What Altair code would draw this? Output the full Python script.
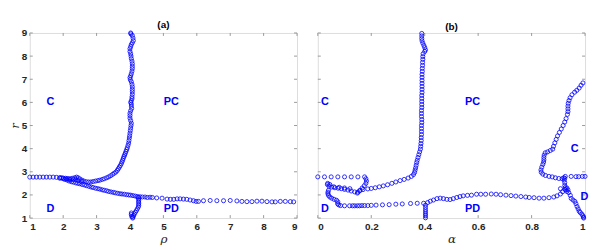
import altair as alt
import pandas as pd

# ---------------- panel (a): rho vs r ----------------
a_left_rho = [1.0, 1.1, 1.2, 1.3, 1.4, 1.5, 1.6, 1.7, 1.8, 1.9, 1.95]
a_left_r = [2.77, 2.77, 2.77, 2.77, 2.77, 2.77, 2.77, 2.77, 2.76, 2.75, 2.74]

a_up_rho = [2.0, 2.07, 2.14, 2.2, 2.27, 2.34, 2.4, 2.45, 2.5, 2.56, 2.62, 2.69, 2.76, 2.83, 2.9, 2.97,
            3.04, 3.1, 3.17, 3.23, 3.3, 3.36, 3.42, 3.48, 3.53, 3.58, 3.62, 3.65, 3.68, 3.71, 3.74, 3.76,
            3.78, 3.8, 3.82, 3.84, 3.86, 3.88, 3.9, 3.92, 3.94, 3.96, 3.97, 3.98, 3.99, 4.0, 4.01, 4.02,
            4.03, 4.04, 4.02, 4.0, 4.0, 4.0, 4.02, 4.05, 4.04, 4.04, 4.02, 4.04, 4.06, 4.06, 4.07, 4.07,
            4.07, 4.07, 4.06, 4.04, 4.01, 4.0, 4.02, 4.04, 4.06, 4.07, 4.07, 4.07, 4.06, 4.04, 4.03, 4.02,
            4.0, 4.0, 4.02, 4.04, 4.07, 4.1, 4.09, 4.07, 4.03, 4.02]
a_up_r = [2.73, 2.72, 2.71, 2.7, 2.72, 2.74, 2.77, 2.74, 2.69, 2.64, 2.6, 2.57, 2.56, 2.56, 2.58, 2.6,
          2.62, 2.64, 2.67, 2.7, 2.74, 2.78, 2.83, 2.89, 2.94, 2.99, 3.06, 3.13, 3.2, 3.27, 3.35, 3.43,
          3.5, 3.58, 3.66, 3.73, 3.8, 3.88, 3.96, 4.04, 4.14, 4.24, 4.35, 4.46, 4.56, 4.67, 4.78, 4.89,
          5.0, 5.1, 5.21, 5.32, 5.43, 5.53, 5.64, 5.74, 5.84, 5.93, 6.0, 6.07, 6.16, 6.24, 6.35, 6.46,
          6.56, 6.67, 6.78, 6.89, 6.98, 7.07, 7.15, 7.24, 7.35, 7.46, 7.56, 7.67, 7.78, 7.89, 8.0, 8.1,
          8.2, 8.32, 8.41, 8.5, 8.58, 8.67, 8.78, 8.89, 8.96, 9.0]

a_mid_rho = [1.9, 2.0, 2.1, 2.2, 2.3, 2.38, 2.45, 2.55]
a_mid_r = [2.72, 2.7, 2.69, 2.66, 2.66, 2.68, 2.62, 2.58]

a_low_rho = [2.05, 2.12, 2.18, 2.25, 2.31, 2.38, 2.44, 2.5, 2.57, 2.64, 2.7, 2.77, 2.84, 2.9, 2.97,
             3.04, 3.1, 3.17, 3.23, 3.3, 3.36, 3.43, 3.5, 3.56, 3.63, 3.7, 3.76, 3.83, 3.9, 3.96, 4.02,
             4.09, 4.16, 4.22, 4.3, 4.37, 4.45, 4.52, 4.6, 4.67, 4.8, 4.96, 5.11, 5.21, 5.31, 5.41, 5.5,
             5.6, 5.7, 5.8, 5.9, 5.98, 6.05, 6.2, 6.4, 6.6, 6.8, 7.0, 7.2, 7.35, 7.5, 7.65, 7.8, 7.95,
             8.1, 8.25, 8.35, 8.5, 8.65, 8.8, 8.9]
a_low_r = [2.67, 2.64, 2.6, 2.57, 2.55, 2.52, 2.5, 2.48, 2.45, 2.43, 2.4, 2.37, 2.34, 2.32, 2.29,
           2.27, 2.25, 2.22, 2.2, 2.18, 2.15, 2.13, 2.11, 2.09, 2.07, 2.05, 2.04, 2.03, 2.01, 2.0, 1.99,
           1.97, 1.95, 1.93, 1.92, 1.91, 1.91, 1.89, 1.9, 1.89, 1.87, 1.86, 1.82, 1.81, 1.81, 1.83, 1.83,
           1.82, 1.81, 1.78, 1.75, 1.72, 1.72, 1.75, 1.76, 1.75, 1.75, 1.76, 1.74, 1.72, 1.71, 1.71, 1.73, 1.73,
           1.71, 1.7, 1.7, 1.72, 1.72, 1.71, 1.7]

a_stem_rho = [4.25, 4.26, 4.26, 4.26, 4.26, 4.26, 4.25, 4.22, 4.19, 4.16, 4.13, 4.11, 4.09, 4.08,
              4.04, 4.04, 4.06]
a_stem_r = [1.9, 1.83, 1.76, 1.69, 1.62, 1.55, 1.48, 1.4, 1.32, 1.25, 1.18, 1.11, 1.04, 1.0,
            1.22, 1.15, 1.07]

# ---------------- panel (b): alpha vs r ----------------
b_hl_alpha = [0.0, 0.025, 0.05, 0.075, 0.1, 0.125, 0.15, 0.175]
b_hl_r = [2.78, 2.78, 2.78, 2.78, 2.78, 2.78, 2.78, 2.78]

b_hook_alpha = [0.18, 0.182, 0.18, 0.174, 0.166, 0.158, 0.15, 0.148]
b_hook_r = [2.7, 2.6, 2.5, 2.4, 2.3, 2.2, 2.12, 2.08]

b_band_alpha = [0.138, 0.125, 0.113, 0.1, 0.088, 0.076, 0.064, 0.052, 0.042, 0.036, 0.037,
                0.045, 0.06, 0.08, 0.1, 0.12, 0.04, 0.038, 0.038, 0.04]
b_band_r = [2.13, 2.17, 2.21, 2.24, 2.27, 2.29, 2.31, 2.34, 2.38, 2.45, 2.5,
            2.45, 2.35, 2.33, 2.3, 2.27, 2.2, 2.12, 2.05, 1.98]

b_wig_alpha = [0.045, 0.052, 0.061, 0.07, 0.075, 0.074, 0.078, 0.085]
b_wig_r = [1.91, 1.86, 1.81, 1.77, 1.7, 1.62, 1.57, 1.54]

b_low_alpha = [0.1, 0.119, 0.13, 0.138, 0.148, 0.156, 0.165, 0.175, 0.187, 0.2, 0.218, 0.242, 0.267,
               0.292, 0.316, 0.347, 0.372, 0.396, 0.411, 0.421, 0.433, 0.446, 0.458, 0.47, 0.483, 0.495,
               0.507, 0.52, 0.532, 0.544, 0.56, 0.575, 0.594, 0.61, 0.628, 0.649, 0.667, 0.684, 0.704,
               0.723, 0.741, 0.76, 0.778, 0.791, 0.809, 0.828, 0.846, 0.865, 0.883, 0.895, 0.908, 0.916,
               0.924]
b_low_r = [1.53, 1.53, 1.53, 1.53, 1.53, 1.53, 1.54, 1.54, 1.54, 1.55, 1.56, 1.57, 1.58,
           1.6, 1.61, 1.63, 1.64, 1.64, 1.67, 1.73, 1.78, 1.84, 1.86, 1.84, 1.81, 1.8,
           1.84, 1.89, 1.93, 1.96, 1.98, 1.99, 2.03, 2.03, 2.03, 2.04, 2.03, 2.01, 1.99,
           1.97, 1.95, 1.93, 1.91, 1.89, 1.88, 1.86, 1.86, 1.88, 1.91, 1.96, 2.04, 2.14,
           2.24]

b_stem_alpha = [0.403, 0.403, 0.403, 0.403, 0.403, 0.403, 0.403]
b_stem_r = [1.56, 1.46, 1.36, 1.27, 1.18, 1.1, 1.01]

b_main_alpha = [0.156, 0.169, 0.187, 0.2, 0.215, 0.23, 0.245, 0.261, 0.277, 0.292, 0.308, 0.323, 0.338,
                0.35, 0.358, 0.362, 0.364, 0.366, 0.368, 0.37, 0.372, 0.375, 0.378, 0.381, 0.384, 0.385,
                0.386, 0.387, 0.387, 0.388, 0.388, 0.388, 0.388, 0.389, 0.389, 0.388, 0.388, 0.388, 0.389,
                0.389, 0.389, 0.389, 0.389, 0.39, 0.39, 0.39, 0.39, 0.39, 0.39, 0.39, 0.391, 0.391, 0.392,
                0.392, 0.393, 0.393, 0.394, 0.4, 0.403, 0.4, 0.397, 0.393, 0.39, 0.389, 0.389, 0.389]
b_main_r = [2.17, 2.23, 2.26, 2.28, 2.31, 2.35, 2.39, 2.44, 2.5, 2.56, 2.62, 2.67, 2.73,
            2.8, 2.88, 2.97, 3.07, 3.17, 3.28, 3.4, 3.5, 3.62, 3.74, 3.86, 3.98, 4.1,
            4.22, 4.35, 4.48, 4.61, 4.74, 4.87, 5.0, 5.13, 5.26, 5.39, 5.52, 5.65, 5.78,
            5.91, 6.04, 6.17, 6.3, 6.43, 6.56, 6.69, 6.82, 6.95, 7.08, 7.21, 7.34, 7.47, 7.6,
            7.73, 7.86, 7.98, 8.1, 8.2, 8.27, 8.37, 8.46, 8.56, 8.66, 8.76, 8.87, 8.98]

b_ru_alpha = [0.992, 0.985, 0.978, 0.969, 0.961, 0.951, 0.944, 0.94, 0.937, 0.936, 0.936, 0.936, 0.934,
              0.929, 0.924, 0.918, 0.911, 0.904, 0.897, 0.892, 0.887, 0.882, 0.879, 0.87, 0.86, 0.851,
              0.847, 0.846, 0.846, 0.845, 0.842, 0.838, 0.835, 0.836, 0.842, 0.852, 0.865, 0.877, 0.889,
              0.902, 0.914, 0.924]
b_ru_r = [6.84, 6.74, 6.62, 6.52, 6.44, 6.33, 6.2, 6.08, 5.96, 5.84, 5.72, 5.6, 5.48,
          5.3, 5.15, 5.0, 4.85, 4.7, 4.55, 4.4, 4.25, 4.1, 3.98, 3.92, 3.86, 3.82,
          3.72, 3.62, 3.52, 3.42, 3.32, 3.2, 3.08, 2.98, 2.9, 2.84, 2.8, 2.78, 2.74,
          2.71, 2.7, 2.72]

b_hr_alpha = [0.926, 0.948, 0.966, 0.976, 0.99, 1.0]
b_hr_r = [2.8, 2.8, 2.79, 2.79, 2.8, 2.8]

b_rs_alpha = [0.92, 0.922, 0.924, 0.924, 0.926, 0.928, 0.932, 0.939, 0.945, 0.948, 0.955, 0.962, 0.966,
              0.97, 0.974, 0.978, 0.982, 0.988, 0.992, 0.994, 0.995, 0.908, 0.932, 0.936]
b_rs_r = [2.74, 2.64, 2.53, 2.41, 2.32, 2.22, 2.15, 2.1, 1.98, 1.85, 1.78, 1.72, 1.62,
          1.5, 1.4, 1.3, 1.24, 1.17, 1.1, 1.04, 1.0, 2.27, 2.3, 2.22]

# region labels
a_lab_text = ["C", "PC", "D", "PD"]
a_lab_x = [1.62, 5.24, 1.62, 5.24]
a_lab_y = [6.0, 6.0, 1.4, 1.4]
b_lab_text = ["C", "PC", "D", "PD", "C", "D"]
b_lab_x = [0.027, 0.579, 0.027, 0.579, 0.961, 0.998]
b_lab_y = [6.0, 6.0, 1.4, 1.4, 3.99, 1.93]

a_xticks = [1, 2, 3, 4, 5, 6, 7, 8, 9]
b_xticks = [0, 0.2, 0.4, 0.6, 0.8, 1]
yticks = [1, 2, 3, 4, 5, 6, 7, 8, 9]

W, H = 270, 187
BLUE = "#0000ff"
FRAME = "#9a9a9a"
TXT = "#262626"
FONT = "Liberation Sans"


def frame_df(pairs):
    xs, ys = [], []
    for px, py in pairs:
        xs += px
        ys += py
    return pd.DataFrame({"x": xs, "r": ys})


def panel(df, dom, xticks, xtitle, title, labels, show_y):
    xs = alt.Scale(domain=dom, nice=False, zero=False)
    ys = alt.Scale(domain=[1, 9], nice=False, zero=False)
    xax = alt.Axis(values=xticks, ticks=False, domain=False, grid=False, format="~g",
                   labelFont=FONT, labelFontWeight="bold", labelFontSize=10, labelColor=TXT,
                   labelPadding=4, title=xtitle, titleFont="DejaVu Serif", titleFontStyle="italic",
                   titleFontWeight="normal", titleFontSize=12, titleColor=TXT, titlePadding=2)
    if show_y:
        yax = alt.Axis(values=yticks, ticks=False, domain=False, grid=False,
                       labelFont=FONT, labelFontWeight="bold", labelFontSize=10, labelColor=TXT,
                       labelPadding=3, title="r", titleFont="DejaVu Serif", titleFontStyle="italic",
                       titleFontWeight="normal", titleFontSize=11, titleColor=TXT, titlePadding=1)
    else:
        yax = None
    X = alt.X("x:Q", scale=xs, axis=xax)
    Y = alt.Y("r:Q", scale=ys, axis=yax)

    pts = alt.Chart(df).mark_point(shape="circle", filled=False, color=BLUE, size=17,
                                   strokeWidth=0.8, opacity=1).encode(x=X, y=Y)

    lab = alt.Chart(labels).mark_text(font=FONT, fontWeight="bold", fontSize=11, color=BLUE,
                                      align="center", baseline="middle").encode(x=X, y=Y, text="t:N")

    xt = pd.DataFrame({"x": xticks})
    yt = pd.DataFrame({"r": yticks})
    tb = alt.Chart(xt).mark_rule(color=FRAME, strokeWidth=1).encode(
        x=X, y=alt.value(H), y2=alt.value(H - 3))
    tt = alt.Chart(xt).mark_rule(color=FRAME, strokeWidth=1).encode(
        x=X, y=alt.value(0), y2=alt.value(3))
    tl = alt.Chart(yt).mark_rule(color=FRAME, strokeWidth=1).encode(
        y=Y, x=alt.value(0), x2=alt.value(3))
    tr = alt.Chart(yt).mark_rule(color=FRAME, strokeWidth=1).encode(
        y=Y, x=alt.value(W - 3), x2=alt.value(W))

    return alt.layer(tb, tt, tl, tr, pts, lab).properties(
        width=W, height=H,
        title=alt.Title(title, font=FONT, fontSize=10, fontWeight="bold", color="#000000",
                        offset=2, dy=4, frame="group"))


dfa = frame_df([(a_left_rho, a_left_r), (a_up_rho, a_up_r), (a_mid_rho, a_mid_r),
                (a_low_rho, a_low_r), (a_stem_rho, a_stem_r)])
dfb = frame_df([(b_hl_alpha, b_hl_r), (b_hook_alpha, b_hook_r), (b_band_alpha, b_band_r),
                (b_wig_alpha, b_wig_r), (b_low_alpha, b_low_r), (b_stem_alpha, b_stem_r),
                (b_main_alpha, b_main_r), (b_ru_alpha, b_ru_r), (b_hr_alpha, b_hr_r),
                (b_rs_alpha, b_rs_r)])
laba = pd.DataFrame({"t": a_lab_text, "x": a_lab_x, "r": a_lab_y})
labb = pd.DataFrame({"t": b_lab_text, "x": b_lab_x, "r": b_lab_y})

pa = panel(dfa, [1, 9], a_xticks, "ρ", "(a)", laba, True)
pb = panel(dfb, [0, 1], b_xticks, "α", "(b)", labb, False)

chart = alt.hconcat(pa, pb, spacing=15).properties(
    padding={"left": 0, "top": 10, "right": 0, "bottom": 0}
).configure_view(stroke=FRAME, strokeWidth=1).configure(background="white")

chart.save("out.html", embed_options={"renderer": "svg", "actions": False})
